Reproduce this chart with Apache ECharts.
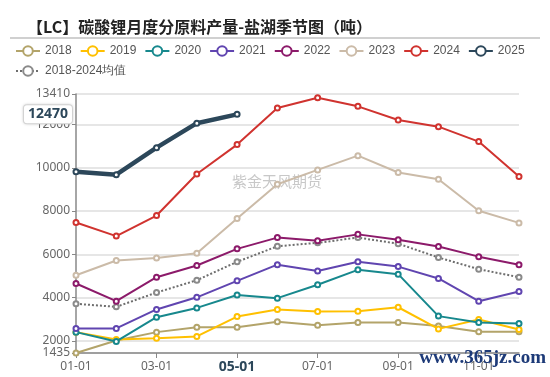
<!DOCTYPE html>
<html>
<head>
<meta charset="utf-8">
<script src="https://cdn.jsdelivr.net/npm/echarts@6/dist/echarts.min.js"></script>
<style>
  html, body { margin: 0; padding: 0; background: #fff; }
  #chart { width: 550px; height: 377px; }
</style>
</head>
<body>
<div id="chart"></div>
<script>
const months = ['01-01', '02-01', '03-01', '04-01', '05-01', '06-01', '07-01', '08-01', '09-01', '10-01', '11-01', '12-01'];

const years = ['2018', '2019', '2020', '2021', '2022', '2023', '2024', '2025'];
const y2018 = [1435, 2010, 2400, 2630, 2630, 2880, 2720, 2850, 2850, 2680, 2420, 2420];
const y2019 = [2400, 2060, 2120, 2200, 3120, 3450, 3350, 3370, 3550, 2550, 2980, 2520];
const y2020 = [2400, 1970, 3090, 3520, 4120, 3970, 4590, 5280, 5080, 3140, 2850, 2800];
const y2021 = [2570, 2570, 3450, 4010, 4770, 5520, 5230, 5650, 5430, 4880, 3830, 4280];
const y2022 = [4650, 3830, 4940, 5480, 6250, 6770, 6630, 6920, 6670, 6360, 5890, 5520];
const y2023 = [5030, 5710, 5830, 6050, 7650, 9240, 9900, 10560, 9780, 9470, 8010, 7450];
const y2024 = [7470, 6840, 7790, 9710, 11070, 12760, 13240, 12840, 12210, 11900, 11210, 9600];
const y2025 = [9820, 9680, 10930, 12060, 12470];
const avg1824 = [3710, 3570, 4230, 4800, 5650, 6370, 6530, 6770, 6490, 5850, 5310, 4940];

const yearColors = ['#b3a46a', '#ffc000', '#17888d', '#6045b0', '#8c1a6a', '#cbbba8', '#d0332f', '#2c475a'];
const avgName = '2018-2024均值';

// 折线系列
const yearData = [y2018, y2019, y2020, y2021, y2022, y2023, y2024, y2025];
const series = years.map((name, i) => ({
  name: name,
  type: 'line',
  data: yearData[i],
  symbol: 'emptyCircle',
  symbolSize: 5,
  showAllSymbol: true,
  z: i === 7 ? 10 : 2 + i,
  lineStyle: { width: i === 7 ? 4.5 : 2, color: yearColors[i] },
  itemStyle: { color: yearColors[i], borderWidth: 1 }
}));
series.push({
  name: avgName,
  type: 'line',
  data: avg1824,
  symbol: 'emptyCircle',
  symbolSize: 5,
  z: 3,
  lineStyle: { width: 2, type: 'dotted', color: '#6e6e6e' },
  itemStyle: { color: '#8a8a8a', borderWidth: 1 }
});

const chart = echarts.init(document.getElementById('chart'));
chart.setOption({
  animation: false,
  title: {
    text: '【LC】碳酸锂月度分原料产量-盐湖季节图（吨）',
    left: 22,
    top: 14,
    textStyle: { fontFamily: 'Noto Sans CJK SC', fontSize: 16, fontWeight: 'bold', color: '#222' }
  },
  legend: {
    left: 10,
    top: 40,
    width: 540,
    itemWidth: 24,
    itemHeight: 12,
    itemGap: 8,
    textStyle: { fontFamily: 'Liberation Sans', fontSize: 12, color: '#555' },
    data: years.concat([avgName])
  },
  graphic: [
    { type: 'line', shape: { x1: 10, y1: 38, x2: 540, y2: 38 }, style: { stroke: '#d0d0d0', lineWidth: 2 } },
    { type: 'text', left: 232, top: 174, z: 0,
      style: { text: '紫金天风期货', fill: '#c8c8c8', font: '15px "Noto Sans CJK SC"' } },
    { type: 'text', right: 4, top: 349, z: 100,
      style: { text: 'www.365jz.com', fill: '#1d3a78', font: 'bold 19px "Liberation Serif"' } }
  ],
  grid: { left: 76, right: 31, top: 94, bottom: 24 },
  xAxis: {
    type: 'category',
    boundaryGap: false,
    data: months,
    axisLine: { lineStyle: { color: '#888', width: 1.5 } },
    axisTick: { alignWithLabel: true, interval: 1, lineStyle: { color: '#888' } },
    axisLabel: { interval: 1, color: '#666', fontSize: 12, fontFamily: 'Noto Sans', margin: 8 },
    axisPointer: {
      show: true,
      status: 'show',
      value: '05-01',
      type: 'line',
      lineStyle: { opacity: 0 },
      label: {
        show: true,
        backgroundColor: '#fff',
        color: '#2c475a',
        fontWeight: 'bold',
        fontSize: 14,
        fontFamily: 'Noto Sans',
        padding: [2, 6],
        margin: 5
      }
    }
  },
  yAxis: {
    type: 'value',
    min: 1435,
    max: 13410,
    axisLine: { show: true, lineStyle: { color: '#888', width: 1.5 } },
    axisTick: { show: true, length: 4, lineStyle: { color: '#888' } },
    axisLabel: { color: '#666', fontSize: 12, fontFamily: 'Noto Sans', margin: 6, formatter: (v) => String(Math.round(v)) },
    splitLine: { lineStyle: { color: '#dedede', width: 1.5 } },
    axisPointer: {
      show: true,
      status: 'show',
      value: 12470,
      type: 'line',
      lineStyle: { opacity: 0 },
      label: {
        show: true,
        formatter: (p) => String(Math.round(p.value)),
        backgroundColor: '#fff',
        borderColor: '#ddd',
        borderWidth: 1,
        shadowColor: 'rgba(0,0,0,0.15)',
        shadowBlur: 3,
        color: '#2c475a',
        fontWeight: 'bold',
        fontSize: 14,
        fontFamily: 'Noto Sans',
        padding: [2, 4],
        margin: 4
      }
    }
  },
  series: series
});
</script>
</body>
</html>
